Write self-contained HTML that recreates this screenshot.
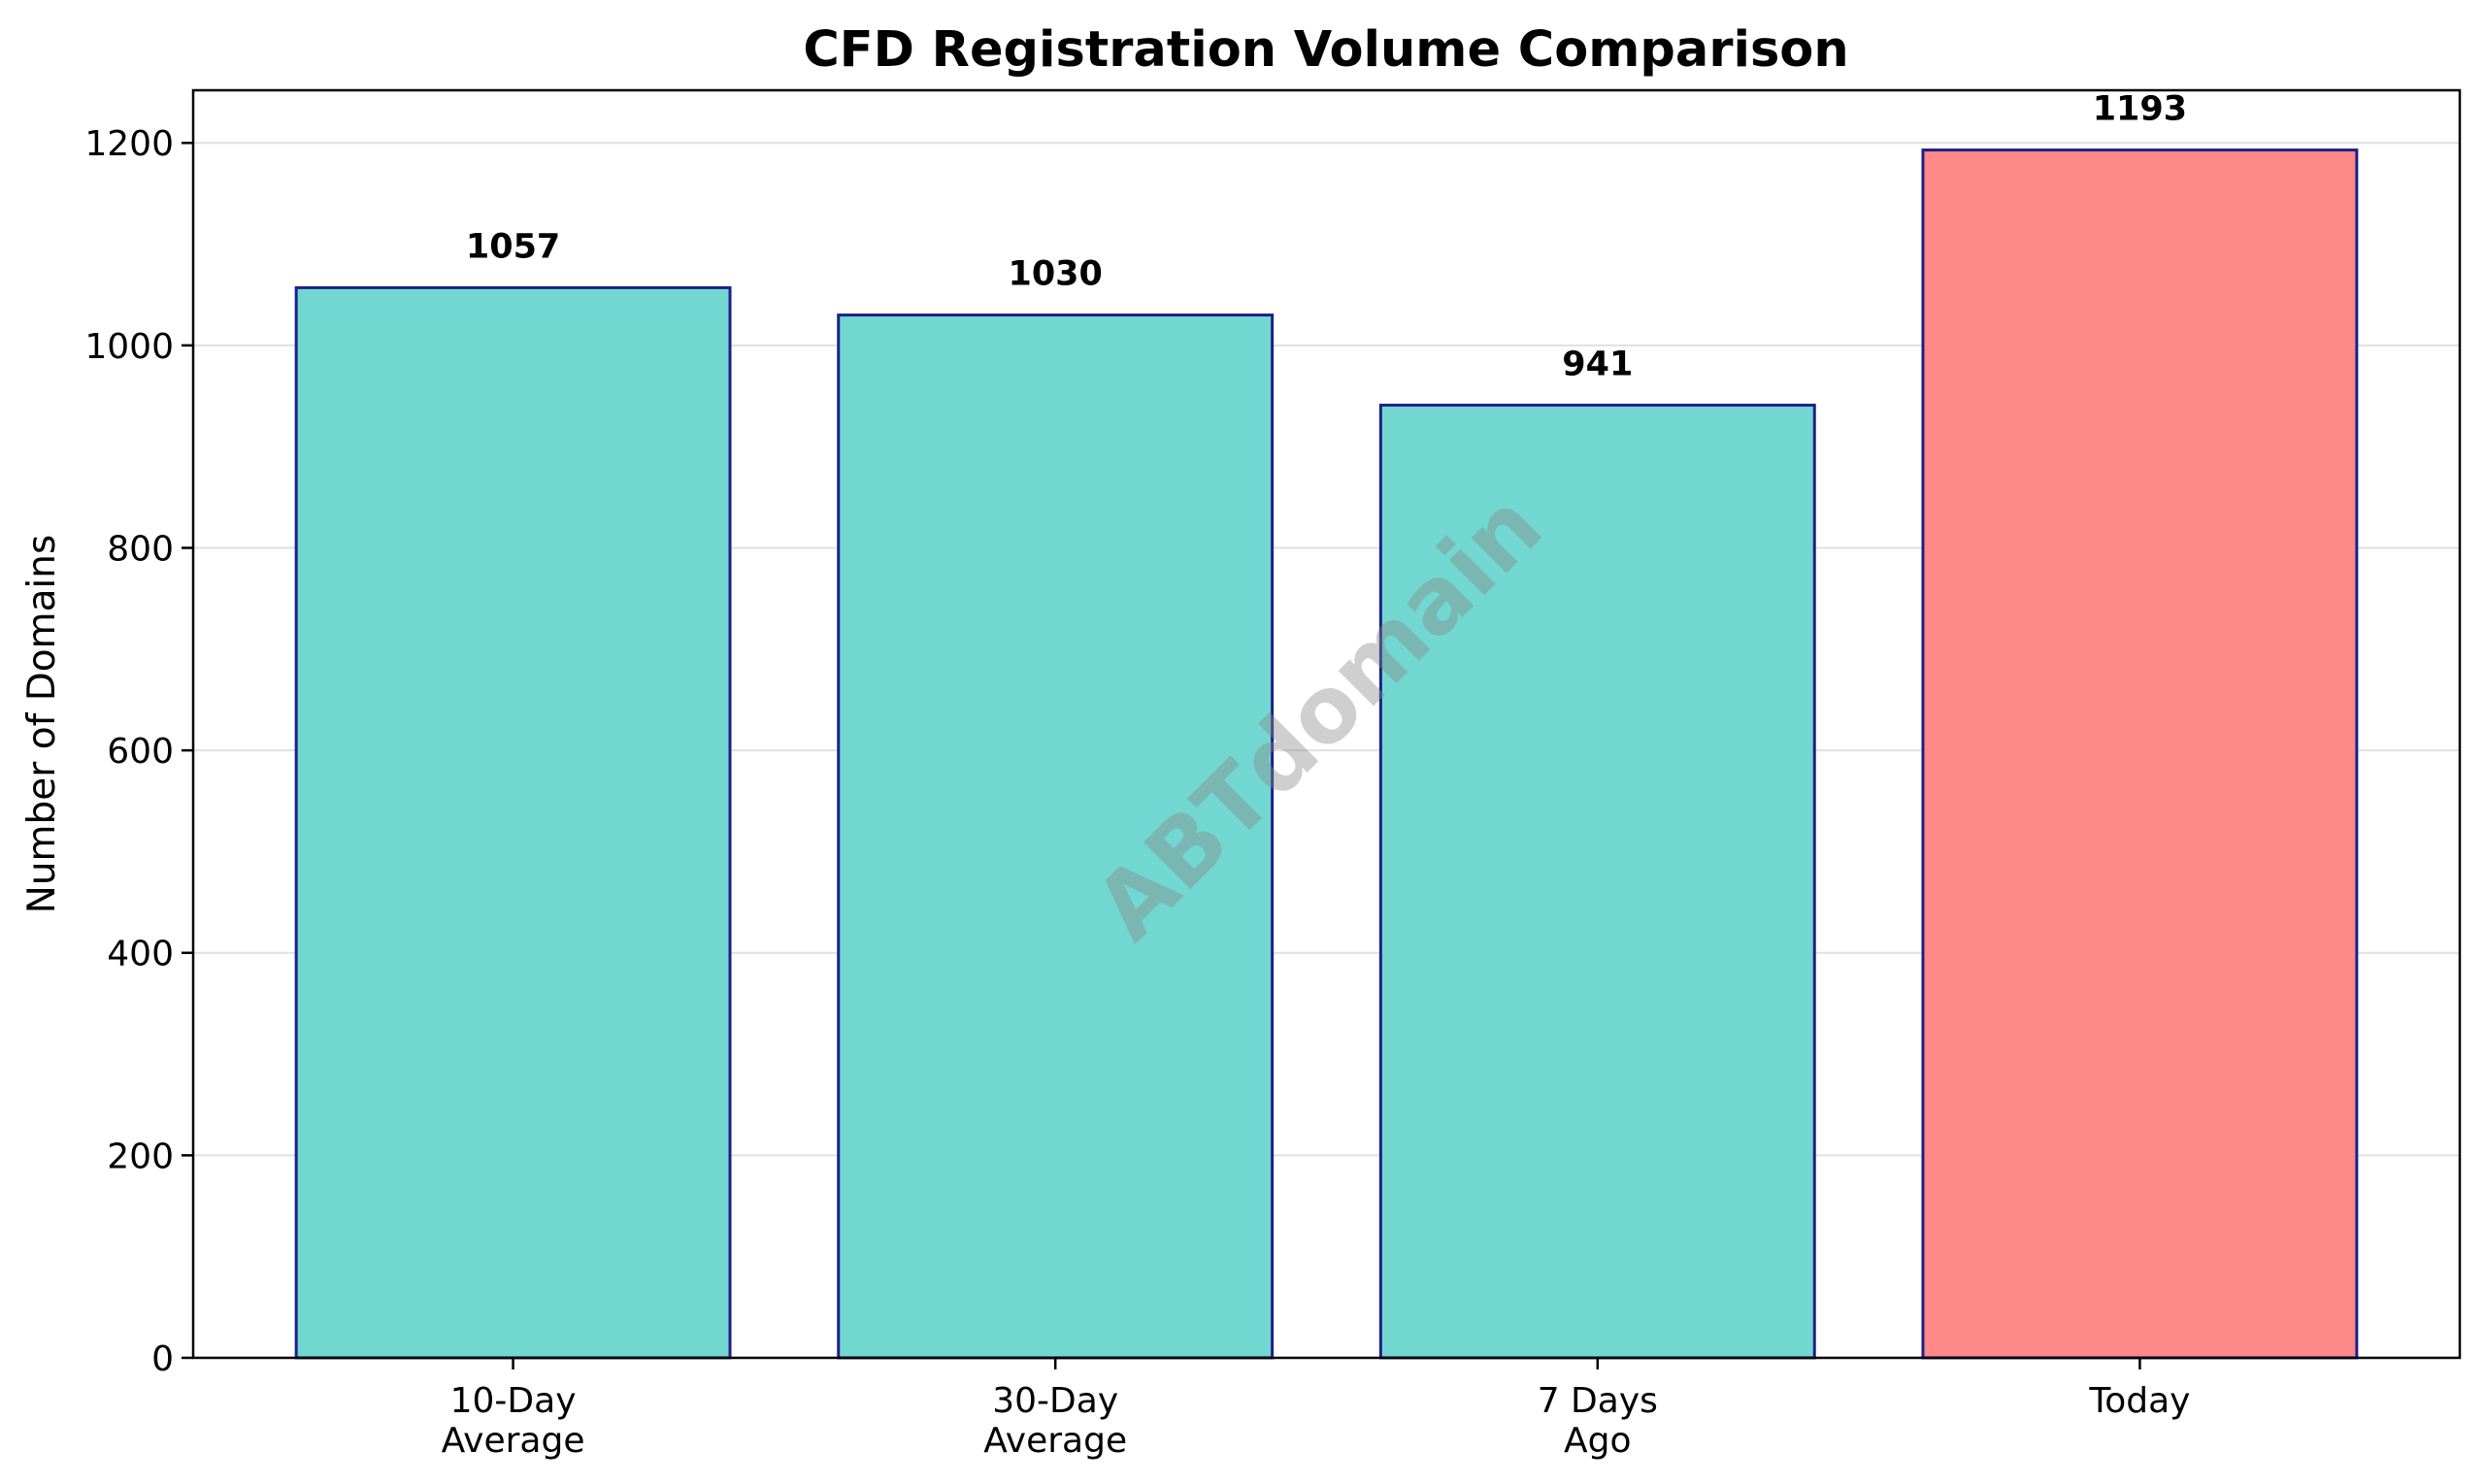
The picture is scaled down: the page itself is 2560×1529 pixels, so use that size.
<!DOCTYPE html>
<html><head><meta charset="utf-8"><style>
html,body{margin:0;padding:0;background:#fff}
svg{display:block;font-family:"DejaVu Sans","Liberation Sans",sans-serif}
</style></head><body>
<svg id="chart" width="2560" height="1529" viewBox="0 0 2560 1529" xmlns="http://www.w3.org/2000/svg">
<rect x="0" y="0" width="2560" height="1529" fill="#fff"/>
<text x="1366" y="68" text-anchor="middle" font-size="51" font-weight="bold" fill="#000">CFD Registration Volume Comparison</text>
<g id="grid"></g>
<g id="bars"></g>
<text x="1363" y="743" text-anchor="middle" dominant-baseline="middle" font-size="94" font-weight="bold" fill="#888" fill-opacity="0.4" transform="rotate(-45 1363 743)">ABTdomain</text>
<rect x="199" y="93" width="2335" height="1306" fill="none" stroke="#000" stroke-width="2.5"/>
<g id="axes"></g>
<text x="0" y="0" transform="translate(56 746) rotate(-90)" text-anchor="middle" font-size="39" fill="#000">Number of Domains</text>
</svg>
<script>
const categories = [["10-Day","Average"],["30-Day","Average"],["7 Days","Ago"],["Today"]];
const values = [1057, 1030, 941, 1193];
const barColors = ["#72d7d0","#72d7d0","#72d7d0","#ff8989"];
const yTicks = [0,200,400,600,800,1000,1200];

const NS="http://www.w3.org/2000/svg";
const L=199,R=2534,T=93,B=1399;
const xMin=-0.59,xMax=3.59,yMax=1252;
function xs(i){return L+(i-xMin)/(xMax-xMin)*(R-L);}
function ys(v){return B-v/yMax*(B-T);}
function mk(tag,attrs,parent){const e=document.createElementNS(NS,tag);for(const k in attrs)e.setAttribute(k,attrs[k]);parent.appendChild(e);return e;}
const grid=document.getElementById('grid'),bars=document.getElementById('bars'),axes=document.getElementById('axes');
const bw=(xs(1)-xs(0))*0.8;

yTicks.forEach(t=>{
  const y=ys(t);
  if(t>0){const g=mk('line',{x1:L,x2:R,y1:y,y2:y,stroke:'#ccc','stroke-opacity':0.6,'stroke-width':2},grid);
  
  }
  const tk=mk('line',{x1:L-12,x2:L,y1:y,y2:y,stroke:'#000','stroke-width':2.5},axes);
  
  
  const tx=mk('text',{x:L-20,y:y+13,'text-anchor':'end','font-size':36,fill:'#000'},axes);
  
  
  tx.textContent=t;
});

values.forEach((v,i)=>{
  const cx=xs(i);
  const r=mk('rect',{x:cx-bw/2,y:ys(v),width:bw,height:B-ys(v),fill:barColors[i],stroke:'#1f1f8a','stroke-width':3},bars);
  
  
  const lb=mk('text',{x:cx,y:ys(v)-31,'text-anchor':'middle','font-size':35,'font-weight':'bold',fill:'#000'},bars);
  
  
  lb.textContent=v;
  const tk=mk('line',{x1:cx,x2:cx,y1:B,y2:B+12,stroke:'#000','stroke-width':2.5},axes);
  
  
  categories[i].forEach((line,j)=>{
    const t=mk('text',{x:cx,y:1455+j*41,'text-anchor':'middle','font-size':36,fill:'#000'},axes);
    
    
    t.textContent=line;
  });
});
</script>
</body></html>
